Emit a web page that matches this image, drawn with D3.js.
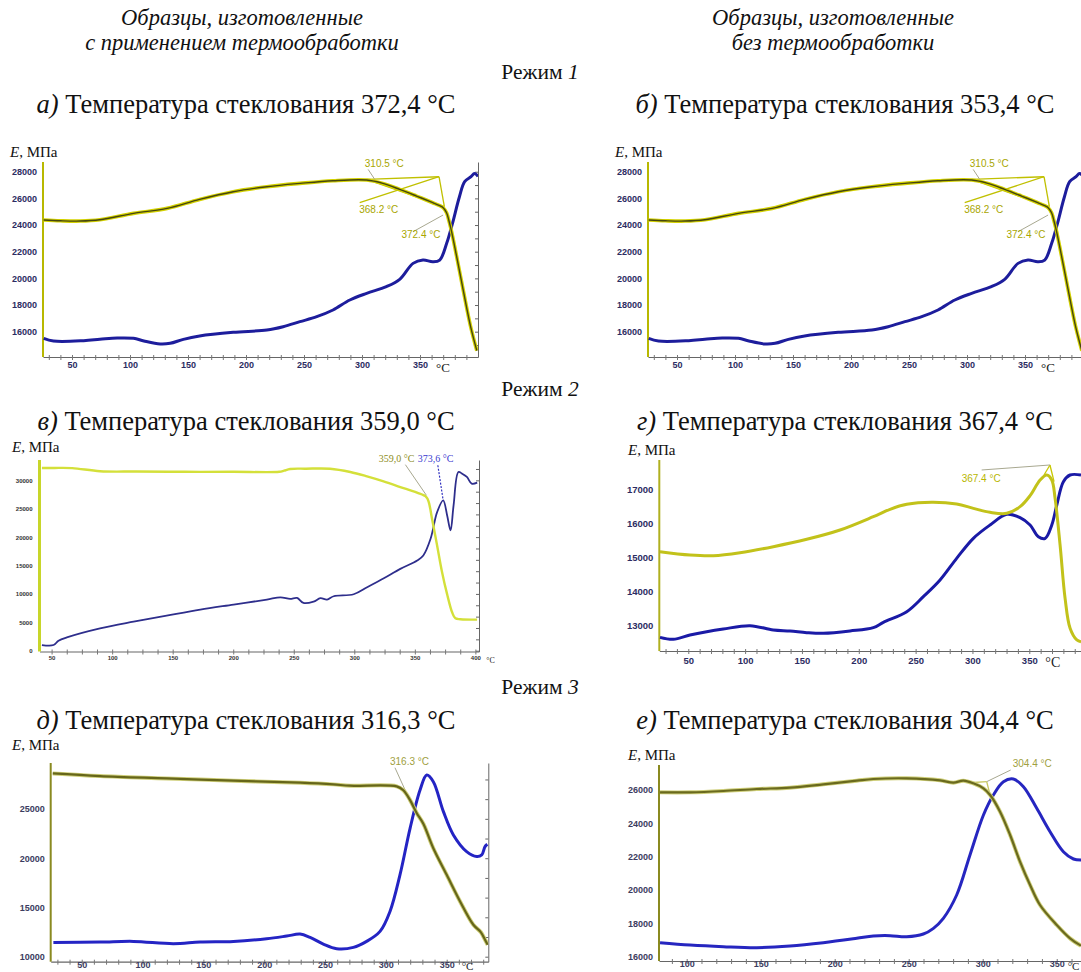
<!doctype html>
<html lang="ru">
<head>
<meta charset="UTF-8">
<title>Температура стеклования</title>
<script src="https://d3js.org/d3.v7.min.js"></script>
<style>
body { margin: 0; background: #fff; }
</style>
</head>
<body>
<div id="chart-area"></div>
<script>

// ---------- data ----------
const headLeft = ['Образцы, изготовленные', 'с применением термообработки'];
const headRight = ['Образцы, изготовленные', 'без термообработки'];
const modeNums = ['1', '2', '3'];
const letters = ['а)', 'б)', 'в)', 'г)', 'д)', 'е)'];
const glassT = ['372,4', '353,4', '359,0', '367,4', '316,3', '304,4'];

// а and б show the same thermogram
const abGreen = [[25.6,24375],[40,24320],[57,24300],[74,24400],[103,24875],[132,25250],[160,25925],[189,26500],[218,26875],[246.5,27125],[275,27325],[304,27375],[318,27125],[332.5,26675],[347,26175],[361,25675],[367,25450],[370,25300],[373,24900],[375,24300],[377,23600],[381,21900],[385.5,19900],[390,17900],[394,16250],[399,14575]];
const abBlue = [[25.6,15500],[34,15300],[60,15325],[74,15425],[89,15525],[103,15500],[112,15300],[126,15075],[134.6,15125],[146,15425],[160,15675],[189,15950],[218,16125],[232,16375],[246.5,16750],[261,17125],[275,17625],[289.5,18375],[304,18875],[321,19375],[332.5,19925],[344,21125],[352.6,21375],[361,21250],[367,21375],[373,22625],[378,24125],[384,26125],[388.5,27250],[394,27625],[397,27875],[400,27650]];
const abTangents = [[304,27425,366.4,27625],[298,25675,366.4,27625],[366.4,27625,371,25375],[304,27425,371,25375]];
const abLeaders = [[305.3,28175,311,27425],[344,23500,369.9,24750]];
const abLabels = [[302.4,28375,'310.5 °C'],[297.6,24925,'368.2 °C'],[334,23000,'372.4 °C']];

const vGreen = [[42,32180],[52,32180],[67,32150],[90,31600],[120,31550],[160,31500],[200,31500],[238,31500],[242,31700],[247,32000],[260,32050],[280,32050],[296.7,31470],[310.5,30700],[324.2,29820],[338,28820],[351.8,27820],[359.5,27060],[361.5,26180],[364.2,23240],[368.4,18530],[372.5,13820],[376.6,10000],[380.8,6760],[383.5,5700],[387.6,5550],[401.4,5470]];
const vBlue = [[42,1000],[51.6,1000],[55.7,1760],[62.6,2350],[90,3940],[117.7,5120],[145,6180],[172.8,7240],[200.3,8120],[227.8,9000],[239,9400],[247,9120],[252.7,9290],[258,8410],[266.4,8650],[272,9240],[277.5,9000],[283,9590],[299.5,9940],[310.6,11180],[324.4,12760],[338,14410],[352,15880],[357,16760],[363,19700],[368.4,24400],[373.4,26470],[376.7,23820],[379.5,21180],[382,25590],[386,31470],[389,31180],[393,30590],[397,29410],[401.5,29590]];
const vLeaders = [[342.2,32760,359.6,27350]];
const vBlueLeaders = [[369,32650,373.4,26470]];
const vLabels = [[320.2,33235,'359,0 °C']];
const vBlueLabels = [[352.5,33235,'373,6 °C']];

const gGreen = [[25.1,15157],[51.5,15059],[72,15039],[95.5,15127],[124.8,15304],[154.2,15520],[183.5,15794],[212.8,16186],[227.5,16402],[242.2,16549],[264.2,16608],[286.1,16559],[300.8,16431],[315.5,16314],[330.2,16284],[341.9,16480],[350.7,16804],[359.5,17265],[365.4,17412],[369.8,17265],[372.7,16725],[377.1,15353],[381.5,13784],[385.9,12902],[391.8,12559],[395.5,12510]];
const gBlue = [[25.1,12637],[36.8,12578],[51.5,12706],[66.2,12804],[80.8,12882],[104.3,12980],[124.8,12853],[139.5,12824],[154.2,12775],[168.8,12755],[192.3,12824],[212.8,12922],[221.6,13078],[242.2,13392],[256.8,13833],[271.5,14324],[286.1,14961],[300.8,15549],[315.5,15941],[330.2,16255],[341.9,16157],[350.7,15941],[358,15598],[364,15549],[369.8,15941],[374.2,16529],[380,17216],[385.9,17412],[395.5,17412]];
const gTangents = [[368.2,17706,363,17412],[368.2,17706,371.8,17216]];
const gLeaders = [[308.1,17559,368.2,17706]];
const gLabels = [[290.5,17216,'367.4 °C']];

const dGreen = [[26.2,28615],[65.1,28345],[119.9,28108],[174.7,27872],[229.5,27669],[256.8,27500],[270.5,27365],[308.9,27300],[314.4,26900],[319.9,25900],[325.3,24600],[330.8,23500],[339,21013],[350,18311],[361,15608],[371.9,13243],[378,12500],[381.5,11723],[383.7,11216]];
const dBlue = [[26.7,11453],[65.1,11486],[92.5,11554],[125.3,11318],[147.3,11486],[174.7,11554],[202,11824],[218.5,12095],[229.5,12297],[237.7,11959],[248.6,11284],[259.6,10811],[273.3,10946],[284.2,11554],[295.2,12568],[303.4,14595],[311.6,18311],[319.9,23041],[328.1,26926],[333.6,28446],[339,27770],[347.3,24730],[355.5,22365],[366.4,20676],[374.7,20169],[378.8,20338],[381.5,21182],[383.4,21419]];
const dLeaders = [[307.5,29190,317.7,26419]];
const dLabels = [[303.4,29460,'316.3 °C']];

const eGreen = [[82,25860],[102.3,25860],[124.8,25940],[147.3,26060],[169.8,26140],[192.3,26340],[214.9,26560],[226.1,26660],[248.6,26700],[271.2,26580],[280.2,26440],[286.9,26560],[293.7,26400],[300.5,26100],[305,25700],[311.7,24700],[318.5,23300],[325.2,21700],[332,20300],[338.7,19100],[350,17900],[359,17100],[366.4,16660]];
const eBlue = [[82,16840],[102.3,16700],[124.8,16600],[147.3,16540],[169.8,16640],[192.3,16840],[214.9,17100],[226.1,17240],[237.4,17260],[248.6,17200],[259.9,17360],[266.7,17700],[273.4,18300],[282.4,19700],[291.4,22100],[300.5,24500],[307.2,25700],[314,26500],[320.7,26660],[327.5,26200],[336.5,24900],[345.5,23500],[354.5,22300],[361.3,21860],[366.4,21800]];
const eTangents = [[293.7,26450,302.7,26500],[302.7,26500,305,25700]];
const eLeaders = [[302.7,26500,318.9,27200]];
const eLabels = [[320.3,27360,'304.4 °C']];

// ---------- page ----------
const W = 1081, H = 972;
const serif = 'Liberation Serif, Times New Roman, serif';
const sans = 'Liberation Sans, Arial, sans-serif';

const svg = d3.select('#chart-area').append('svg')
    .attr('width', W).attr('height', H)
    .style('font-family', serif);

// text with italic / upright parts
function centered(x, y, size, parts) {
    const t = svg.append('text').attr('x', x).attr('y', y)
        .attr('text-anchor', 'middle').attr('font-size', size)
        .attr('font-family', serif).attr('fill', '#111');
    parts.forEach(p => t.append('tspan').attr('font-style', p[1] ? 'italic' : 'normal').text(p[0]));
    return t;
}
headLeft.forEach((s, i) => centered(242, 25 + i * 25, 22.5, [[s, true]]));
headRight.forEach((s, i) => centered(833, 25 + i * 25, 22.5, [[s, true]]));
[79, 396, 694].forEach((y, i) => centered(540, y, 21.5, [['Режим ', false], [modeNums[i], true]]));

const titlePos = [[246, 113], [845, 113], [246, 430], [845, 430], [246, 729], [845, 729]];
letters.forEach((l, i) => centered(titlePos[i][0], titlePos[i][1], 26.5,
    [[l, true], [' Температура стеклования ' + glassT[i] + ' °C', false]]));

let clipN = 0;
function panel(cfg) {
    const [x0, x1, y0, y1] = cfg.box;
    const x = d3.scaleLinear().domain(cfg.xDom).range([x0, x1]);
    const y = d3.scaleLinear().domain(cfg.yDom).range([y1, y0]);
    const g = svg.append('g');
    const id = 'clip' + (clipN++);
    svg.append('clipPath').attr('id', id).append('rect')
        .attr('x', x0).attr('y', y0 - 30).attr('width', Math.min(x1, W) - x0).attr('height', y1 - y0 + 30);

    // E label
    const el = g.append('text').attr('x', cfg.eLabel[0]).attr('y', cfg.eLabel[1])
        .attr('font-size', 15).attr('font-family', serif).attr('fill', '#111');
    el.append('tspan').attr('font-style', 'italic').text('E');
    el.append('tspan').text(', МПа');

    // bottom axis
    const minor = d3.range(cfg.minor[0], cfg.minor[1] + 0.01, cfg.minor[2]);
    g.append('g').attr('transform', `translate(0,${y1})`)
        .call(d3.axisBottom(x).tickValues(minor).tickSize(3).tickSizeOuter(0).tickFormat(''))
        .call(a => a.select('.domain').attr('stroke', '#666').attr('stroke-width', 1.2))
        .call(a => a.selectAll('.tick line').attr('stroke', '#777').attr('y1', -2));
    const xa = g.append('g').attr('transform', `translate(0,${y1})`)
        .call(d3.axisBottom(x).tickValues(cfg.xTicks).tickSize(0).tickPadding(cfg.xPad).tickFormat(d3.format('d')));
    xa.select('.domain').remove();
    xa.selectAll('text').attr('font-family', sans).attr('font-weight', 'bold')
        .attr('font-size', cfg.tickFont).attr('fill', cfg.tickColor);
    g.append('text').attr('x', x(cfg.xTicks[cfg.xTicks.length - 1]) + cfg.degDx).attr('y', y1 + cfg.degDy)
        .attr('font-family', serif).attr('font-size', cfg.degFont).attr('fill', '#222').text('°C');

    // left labels
    const ya = g.append('g').attr('transform', `translate(${x0},0)`)
        .call(d3.axisLeft(y).tickValues(cfg.yTicks).tickSize(0).tickPadding(cfg.yPad).tickFormat(d3.format('d')));
    ya.select('.domain').remove();
    ya.selectAll('text').attr('font-family', sans).attr('font-weight', 'bold')
        .attr('font-size', cfg.tickFont).attr('fill', cfg.tickColor);

    // right axis
    if (x1 < W) {
        g.append('g').attr('transform', `translate(${x1},0)`)
            .call(d3.axisLeft(y).ticks(12).tickSize(3).tickSizeOuter(0).tickFormat(''))
            .call(a => a.selectAll('path, line').attr('stroke', '#666'));
    }
    // left axis line
    g.append('line').attr('x1', x0).attr('x2', x0).attr('y1', y0).attr('y2', y1)
        .attr('stroke', cfg.axisColor).attr('stroke-width', cfg.axisWidth);

    const plot = g.append('g').attr('clip-path', `url(#${id})`);
    const line = d3.line().x(d => x(d[0])).y(d => y(d[1])).curve(d3.curveCatmullRom.alpha(0.5));

    const seg = (arr, color, w, dash) => arr.forEach(s => plot.append('line')
        .attr('x1', x(s[0])).attr('y1', y(s[1])).attr('x2', x(s[2])).attr('y2', y(s[3]))
        .attr('stroke', color).attr('stroke-width', w).attr('stroke-dasharray', dash || null));
    seg(cfg.tangents || [], cfg.tanColor, 1.3);
    seg(cfg.leaders || [], '#a8a890', 1);

    cfg.blueStyle.forEach(s => plot.append('path').datum(cfg.blue).attr('d', line)
        .attr('fill', 'none').attr('stroke', s[0]).attr('stroke-width', s[1]).attr('stroke-linejoin', 'round'));
    cfg.greenStyle.forEach(s => plot.append('path').datum(cfg.green).attr('d', line)
        .attr('fill', 'none').attr('stroke', s[0]).attr('stroke-width', s[1]).attr('stroke-linejoin', 'round'));
    seg(cfg.blueLeaders || [], '#3030c0', 1.2, '2,1.5');

    const lab = (arr, color) => arr.forEach(l => g.append('text')
        .attr('x', x(l[0])).attr('y', y(l[1])).attr('font-family', cfg.labFamily)
        .attr('font-size', cfg.labFont).attr('fill', color).text(l[2]));
    lab(cfg.labels || [], cfg.labColor);
    lab(cfg.blueLabels || [], '#3a3ad0');
}

const abStyle = {
    xDom: [25, 400], yDom: [14100, 28730],
    yTicks: d3.range(16000, 28001, 2000), xTicks: d3.range(50, 351, 50), minor: [30, 390, 10],
    green: abGreen, blue: abBlue,
    greenStyle: [['#d4d200', 3.6], ['#45450f', 1.4]], blueStyle: [['#1d1d9c', 3]],
    tangents: abTangents, leaders: abLeaders, labels: abLabels, tanColor: '#c0c000',
    axisColor: '#b8b800', axisWidth: 2, tickFont: 9, tickColor: '#2c2c62', xPad: 5, yPad: 6,
    degDx: 16, degDy: 15, degFont: 13, labFont: 10, labFamily: sans, labColor: '#a8a600'
};
panel(Object.assign({ box: [43, 478, 162, 357], eLabel: [10, 157] }, abStyle));
panel(Object.assign({ box: [648, 1083, 162, 357], eLabel: [615, 157] }, abStyle));

panel({
    box: [39.5, 479, 460, 651.5], xDom: [40, 403], yDom: [-140, 33580],
    yTicks: d3.range(0, 30001, 5000), xTicks: d3.range(50, 401, 50), minor: [50, 400, 12.5],
    eLabel: [12, 452], green: vGreen, blue: vBlue,
    greenStyle: [['#d4e03a', 2.4]], blueStyle: [['#2e2e8c', 1.8]],
    leaders: vLeaders, blueLeaders: vBlueLeaders, labels: vLabels, blueLabels: vBlueLabels, tanColor: '#c8c800',
    axisColor: '#c8d62a', axisWidth: 3, tickFont: 6, tickColor: '#333', xPad: 4, yPad: 7,
    degDx: 11, degDy: 11, degFont: 8, labFont: 10, labFamily: serif, labColor: '#8c8c1a'
});

panel({
    box: [659.3, 1081, 460, 651], xDom: [24.5, 395.5], yDom: [12235, 17853],
    yTicks: d3.range(13000, 17001, 1000), xTicks: d3.range(50, 351, 50), minor: [30, 390, 10],
    eLabel: [628, 455], green: gGreen, blue: gBlue,
    greenStyle: [['#c2c21a', 3]], blueStyle: [['#1a1aa6', 3]],
    tangents: gTangents, leaders: gLeaders, labels: gLabels, tanColor: '#c8c800',
    axisColor: '#b0b020', axisWidth: 2, tickFont: 9.5, tickColor: '#2c2c62', xPad: 6, yPad: 6,
    degDx: 16, degDy: 16, degFont: 14, labFont: 10, labFamily: sans, labColor: '#b8b600'
});

panel({
    box: [50.7, 488.3, 763, 961.7], xDom: [24.5, 384.2], yDom: [9492, 29671],
    yTicks: d3.range(10000, 25001, 5000), xTicks: d3.range(50, 351, 50), minor: [30, 380, 10],
    eLabel: [12, 750], green: dGreen, blue: dBlue,
    greenStyle: [['#cfcf7a', 4], ['#66661a', 2.2]], blueStyle: [['#2424c4', 3]],
    leaders: dLeaders, labels: dLabels, tanColor: '#c8c800',
    axisColor: '#8a8a20', axisWidth: 2, tickFont: 9, tickColor: '#3c3c60', xPad: 0, yPad: 6,
    degDx: 15, degDy: 8.5, degFont: 11, labFont: 10, labFamily: sans, labColor: '#a0a040'
});

panel({
    box: [659, 1081, 765, 961], xDom: [81.3, 366.4], yDom: [15740, 27500],
    yTicks: d3.range(16000, 26001, 2000), xTicks: d3.range(100, 351, 50), minor: [90, 360, 10],
    eLabel: [628, 760], green: eGreen, blue: eBlue,
    greenStyle: [['#cfcf7a', 4], ['#6a6a1e', 2.2]], blueStyle: [['#2626c0', 3]],
    tangents: eTangents, leaders: eLeaders, labels: eLabels, tanColor: '#c8c860',
    axisColor: '#8a8a20', axisWidth: 2, tickFont: 9, tickColor: '#3c3c60', xPad: 0, yPad: 6,
    degDx: 11, degDy: 9, degFont: 11, labFont: 10, labFamily: sans, labColor: '#a0a040'
});
</script>
</body>
</html>
